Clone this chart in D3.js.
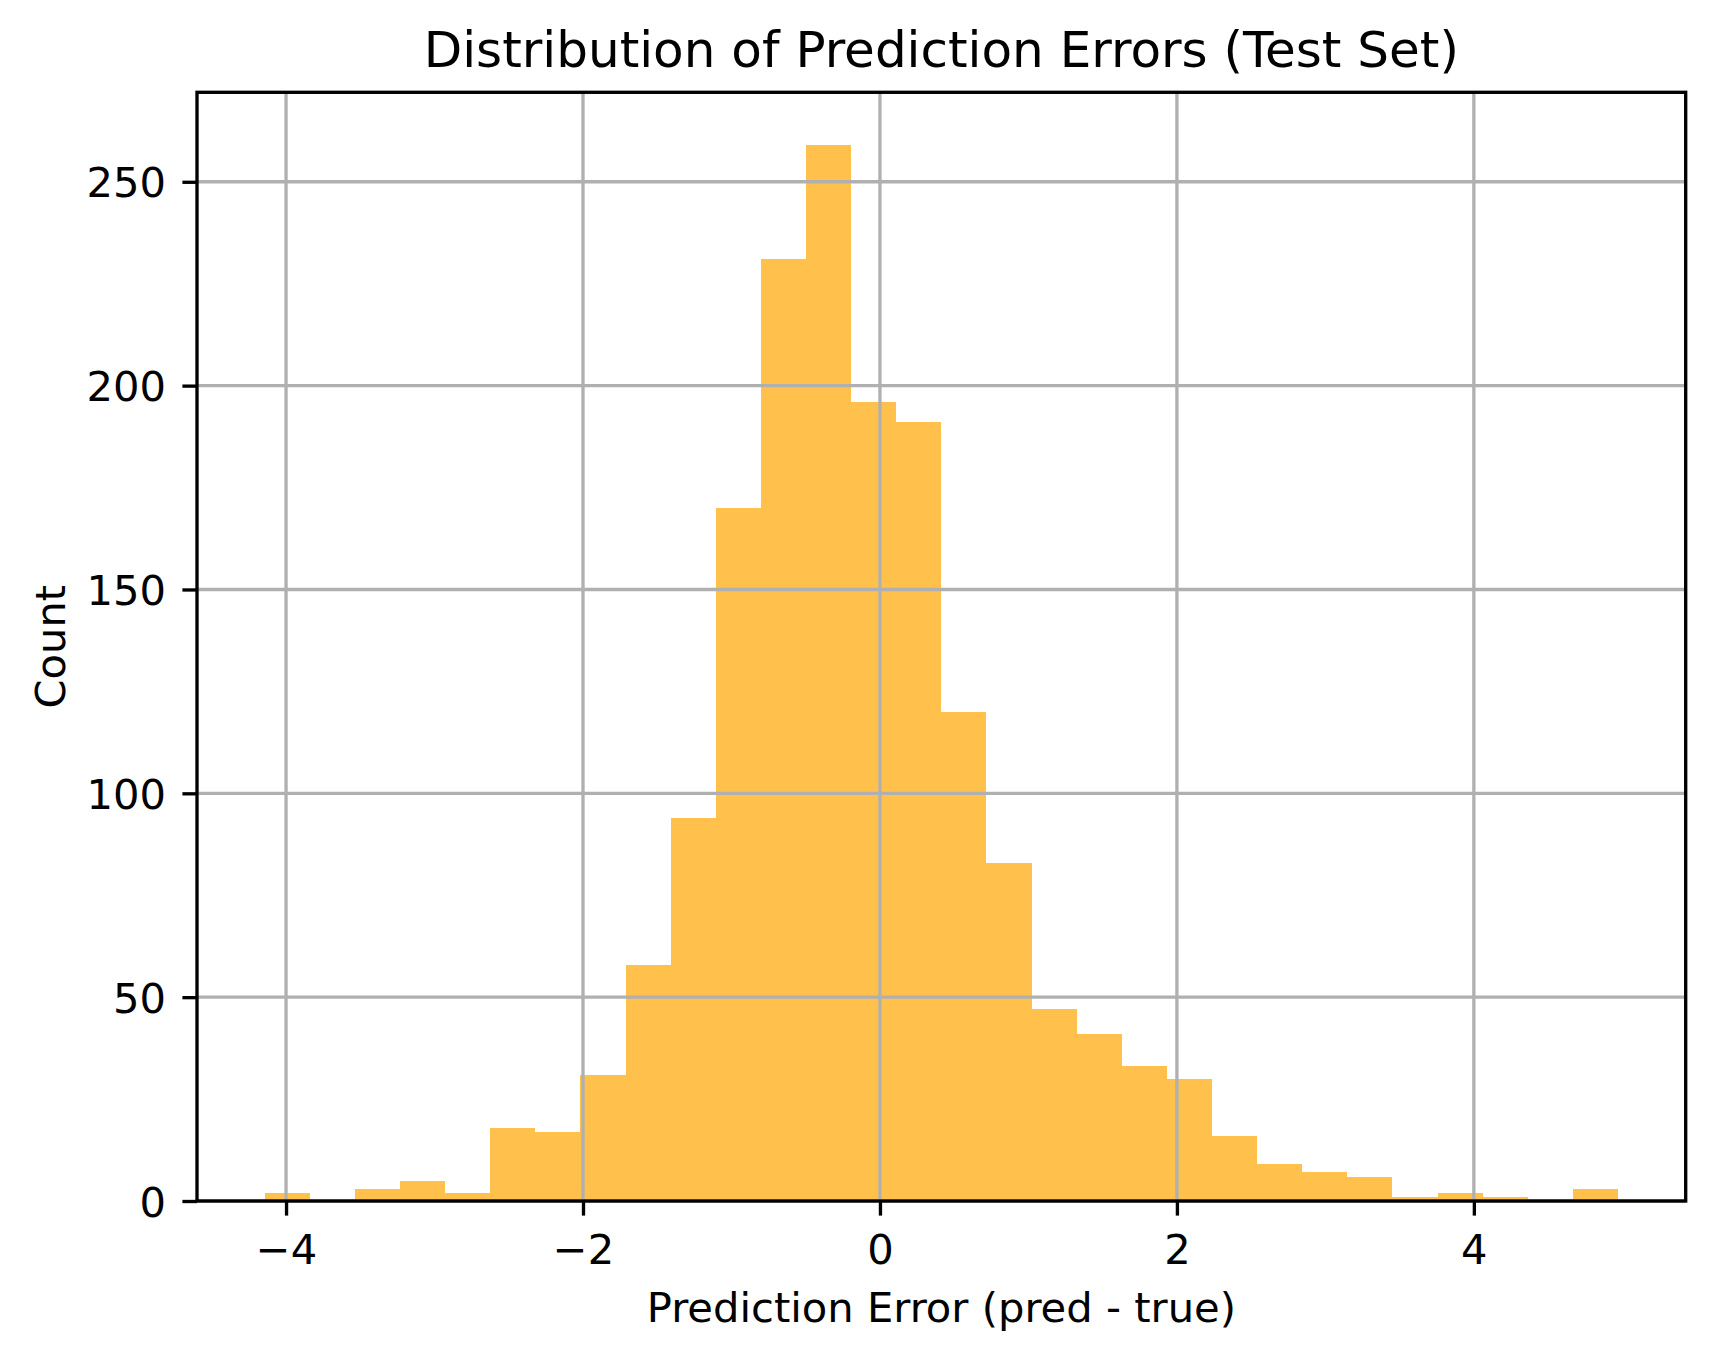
<!DOCTYPE html>
<html>
<head>
<meta charset="utf-8">
<script src="https://cdn.jsdelivr.net/npm/d3@7"></script>
<style>
  html, body { margin: 0; padding: 0; background: #ffffff; }
  svg { display: block; }
  text { font-family: "DejaVu Sans", sans-serif; fill: #000; }
</style>
</head>
<body>
<svg id="chart" width="1715" height="1361"></svg>
<script>
// ---- data ----
const binEdges = [-4.144, -3.840, -3.536, -3.233, -2.929, -2.625, -2.321, -2.017, -1.713, -1.410,
                  -1.106, -0.802, -0.498, -0.194, 0.110, 0.413, 0.717, 1.021, 1.325, 1.629,
                  1.933, 2.236, 2.540, 2.844, 3.148, 3.452, 3.756, 4.059, 4.363, 4.667, 4.971];
const counts = [2, 0, 3, 5, 2, 18, 17, 31, 58, 94,
                170, 231, 259, 196, 191, 120, 83, 47, 41, 33,
                30, 16, 9, 7, 6, 1, 2, 1, 0, 3];
const xTicks = [-4, -2, 0, 2, 4];
const yTicks = [0, 50, 100, 150, 200, 250];
const titleText = "Distribution of Prediction Errors (Test Set)";
const xLabelText = "Prediction Error (pred - true)";
const yLabelText = "Count";

// ---- layout ----
const mLeft = 197, mTop = 92.3, mRight = 1685.7, mBottom = 1201;
const lw = 3.33, tickLen = 14.6, fs = 41.67;

const svg = d3.select("#chart");

const xmin = binEdges[0], xmax = binEdges[binEdges.length - 1];
const xpad = (xmax - xmin) * 0.05;
const x = d3.scaleLinear().domain([xmin - xpad, xmax + xpad]).range([mLeft, mRight]);
const y = d3.scaleLinear().domain([0, d3.max(counts) * 1.05]).range([mBottom, mTop]);

const bins = counts.map((c, i) => ({x0: binEdges[i], x1: binEdges[i + 1], c}));

// bars
svg.append("g").attr("shape-rendering", "crispEdges")
  .selectAll("rect").data(bins.filter(d => d.c > 0)).join("rect")
  .attr("x", d => x(d.x0))
  .attr("width", d => x(d.x1) - x(d.x0))
  .attr("y", d => y(d.c))
  .attr("height", d => y(0) - y(d.c))
  .attr("fill", "orange")
  .attr("fill-opacity", 0.7);

// grid (drawn above bars, as in matplotlib default)
const grid = svg.append("g");
grid.selectAll("line.gx").data(xTicks).join("line")
  .attr("class", "gx")
  .attr("x1", d => x(d)).attr("x2", d => x(d))
  .attr("y1", mTop).attr("y2", mBottom)
  .attr("stroke", "#b0b0b0").attr("stroke-width", lw);
grid.selectAll("line.gy").data(yTicks).join("line")
  .attr("class", "gy")
  .attr("x1", mLeft).attr("x2", mRight)
  .attr("y1", d => y(d)).attr("y2", d => y(d))
  .attr("stroke", "#b0b0b0").attr("stroke-width", lw);

// axes via d3
const fmt = d => (d < 0 ? "\u2212" + Math.abs(d) : String(d));
const xAxis = svg.append("g").attr("transform", `translate(0,${mBottom})`)
  .call(d3.axisBottom(x).tickValues(xTicks).tickFormat(fmt).tickSize(tickLen).tickPadding(14.6));
const yAxis = svg.append("g").attr("transform", `translate(${mLeft},0)`)
  .call(d3.axisLeft(y).tickValues(yTicks).tickFormat(fmt).tickSize(tickLen).tickPadding(14.6));

[xAxis, yAxis].forEach(g => {
  g.select(".domain").remove();
  g.selectAll(".tick line").attr("stroke", "#000").attr("stroke-width", lw);
  g.selectAll(".tick text").attr("font-size", fs).attr("font-family", "DejaVu Sans").attr("fill", "#000");
});
xAxis.selectAll(".tick text").attr("dy", null).attr("y", 63);
yAxis.selectAll(".tick text").attr("dy", null).attr("y", 15.2).attr("x", -31);

// spines
svg.append("rect")
  .attr("x", mLeft).attr("y", mTop)
  .attr("width", mRight - mLeft).attr("height", mBottom - mTop)
  .attr("fill", "none").attr("stroke", "#000").attr("stroke-width", lw)
  .attr("stroke-linejoin", "miter");

// title and labels
svg.append("text")
  .attr("x", (mLeft + mRight) / 2).attr("y", 67.3)
  .attr("text-anchor", "middle").attr("font-size", 50)
  .text(titleText);

svg.append("text")
  .attr("x", (mLeft + mRight) / 2).attr("y", 1322)
  .attr("text-anchor", "middle").attr("font-size", fs)
  .text(xLabelText);

svg.append("text")
  .attr("transform", `translate(65,${(mTop + mBottom) / 2}) rotate(-90)`)
  .attr("text-anchor", "middle").attr("font-size", fs)
  .text(yLabelText);
</script>
</body>
</html>
